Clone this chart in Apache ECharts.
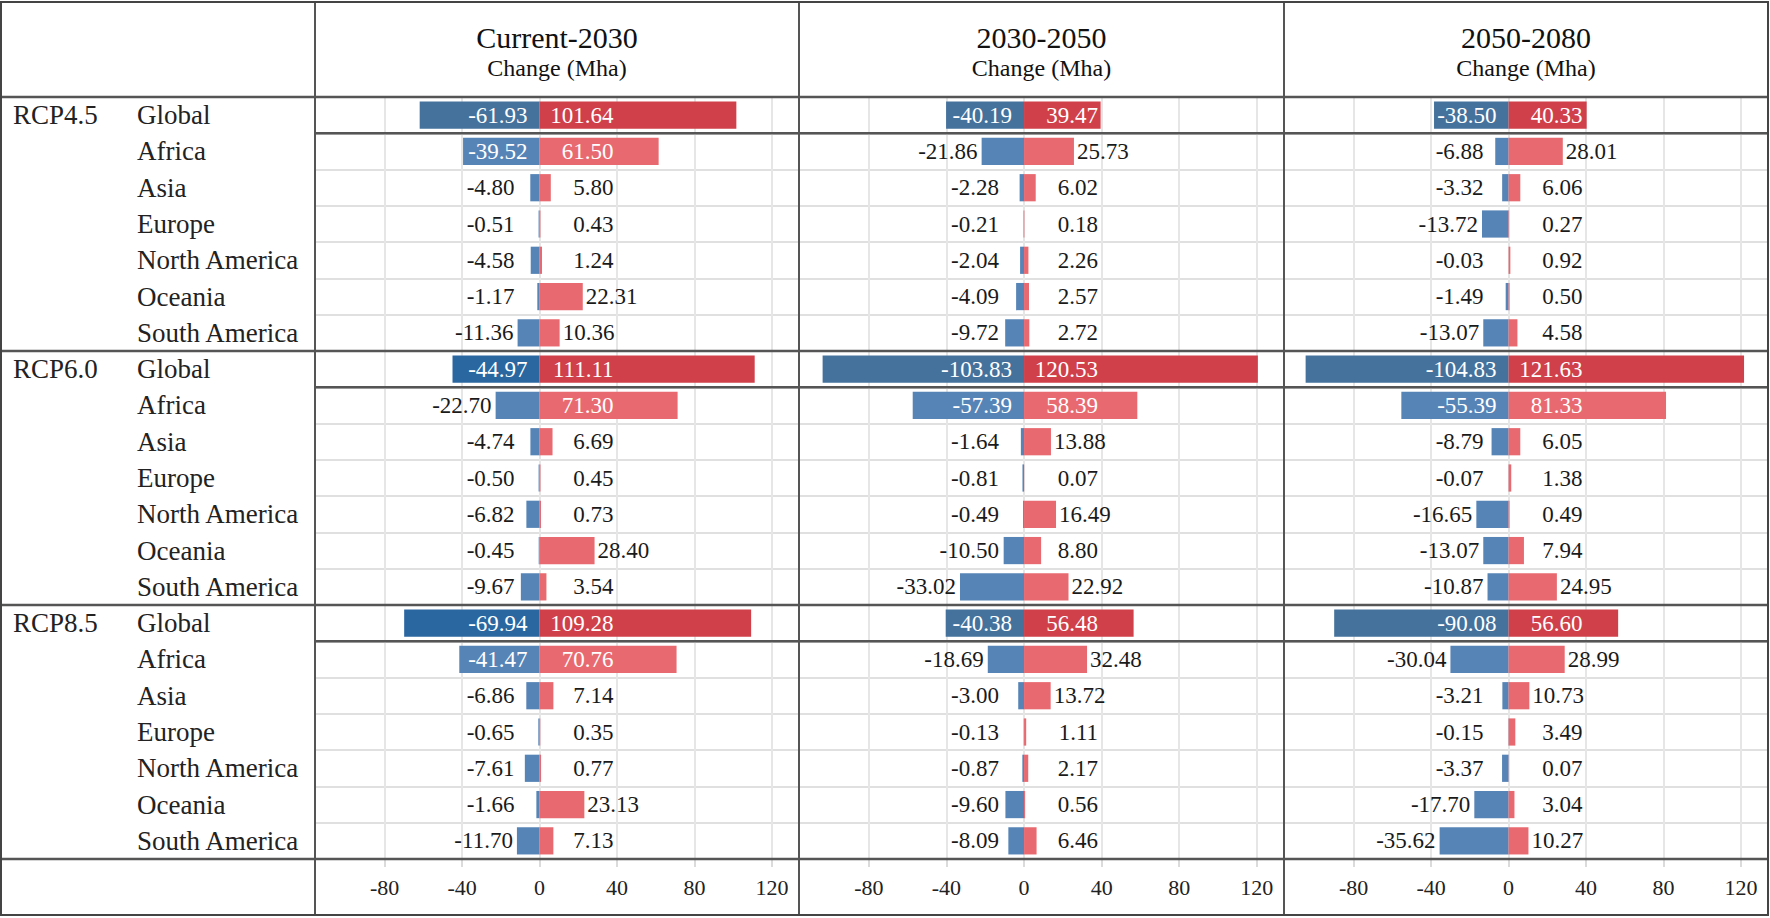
<!DOCTYPE html>
<html><head><meta charset="utf-8">
<script src="https://cdn.jsdelivr.net/npm/echarts@6/dist/echarts.min.js"></script>
<style>html,body{margin:0;padding:0;background:#fff}#c{width:1770px;height:918px}</style>
</head><body><div id="c"></div>
<script>
// ---------------- data ----------------
const periods = ['Current-2030', '2030-2050', '2050-2080'];
const subtitle = 'Change (Mha)';
const scenarios = ['RCP4.5', 'RCP6.0', 'RCP8.5'];
const regions = ['Global', 'Africa', 'Asia', 'Europe', 'North America', 'Oceania', 'South America'];
const tickValues = [-80, -40, 0, 40, 80, 120];

// rows: RCP4.5 (7 regions), RCP6.0 (7), RCP8.5 (7)
const lossCurrent2030 = [-61.93, -39.52, -4.80, -0.51, -4.58, -1.17, -11.36,
                         -44.97, -22.70, -4.74, -0.50, -6.82, -0.45, -9.67,
                         -69.94, -41.47, -6.86, -0.65, -7.61, -1.66, -11.70];
const gainCurrent2030 = [101.64, 61.50, 5.80, 0.43, 1.24, 22.31, 10.36,
                         111.11, 71.30, 6.69, 0.45, 0.73, 28.40, 3.54,
                         109.28, 70.76, 7.14, 0.35, 0.77, 23.13, 7.13];
const loss2030to2050 = [-40.19, -21.86, -2.28, -0.21, -2.04, -4.09, -9.72,
                        -103.83, -57.39, -1.64, -0.81, -0.49, -10.50, -33.02,
                        -40.38, -18.69, -3.00, -0.13, -0.87, -9.60, -8.09];
const gain2030to2050 = [39.47, 25.73, 6.02, 0.18, 2.26, 2.57, 2.72,
                        120.53, 58.39, 13.88, 0.07, 16.49, 8.80, 22.92,
                        56.48, 32.48, 13.72, 1.11, 2.17, 0.56, 6.46];
const loss2050to2080 = [-38.50, -6.88, -3.32, -13.72, -0.03, -1.49, -13.07,
                        -104.83, -55.39, -8.79, -0.07, -16.65, -13.07, -10.87,
                        -90.08, -30.04, -3.21, -0.15, -3.37, -17.70, -35.62];
const gain2050to2080 = [40.33, 28.01, 6.06, 0.27, 0.92, 0.50, 4.58,
                        121.63, 81.33, 6.05, 1.38, 0.49, 7.94, 24.95,
                        56.60, 28.99, 10.73, 3.49, 0.07, 3.04, 10.27];

const losses = [lossCurrent2030, loss2030to2050, loss2050to2080];
const gains = [gainCurrent2030, gain2030to2050, gain2050to2080];

// ---------------- styles / layout ----------------
const FONT = '"Liberation Serif", "Times New Roman", serif';
const VAL_SIZE = 23, ROW_SIZE = 27, TITLE_SIZE = 30, SUB_SIZE = 24, AXIS_SIZE = 22;
const COL_BLUE = '#5784b6', COL_RED = '#e86a70';
const COL_GBLUE = '#44729c', COL_GBLUE_STRONG = '#2a67a1', COL_GRED = '#d0404a';
const strongGlobalLoss = {0: [1, 2]}; // period index -> scenario indices drawn in stronger blue
const DARK = '#555555', LIGHT = '#e0e0e0', TEXT = '#1a1a1a';

const colEdges = [315, 799, 1284, 1768];
const rowsTop = 97, rowsBottom = 859;
const frame = {l: 1, r: 1768, t: 2, b: 915};
const xMin = -116, xMax = 134;
const nRows = scenarios.length * regions.length;
const rowH = (rowsBottom - rowsTop) / nRows;
const POS_ANCHOR = 74;   // px right of zero where positive labels end
const NEG_ANCHOR = 25;   // px left of zero where small negative labels end

const rowKeys = [];
scenarios.forEach(s => regions.forEach(r => rowKeys.push(s + '|' + r)));

const mctx = document.createElement('canvas').getContext('2d');
mctx.font = VAL_SIZE + 'px "Liberation Serif"';
const textW = s => mctx.measureText(s).width;
const fmt = v => v.toFixed(2);

const grids = [], xAxes = [], yAxes = [], series = [], graphics = [];

periods.forEach((per, p) => {
  const gl = colEdges[p], gw = colEdges[p + 1] - colEdges[p];
  const ppu = gw / (xMax - xMin);
  grids.push({left: gl, top: rowsTop, width: gw, height: rowsBottom - rowsTop, containLabel: false});
  xAxes.push({
    type: 'value', gridIndex: p, min: xMin, max: xMax, position: 'bottom',
    axisLine: {show: false},
    axisTick: {show: true, customValues: tickValues, length: 8, lineStyle: {color: '#cfcfcf', width: 1.5}},
    axisLabel: {customValues: tickValues, fontFamily: FONT, fontSize: AXIS_SIZE, color: '#222', margin: 17},
    splitLine: {show: true, lineStyle: {color: '#e6e6e6', width: 2}}
  });
  const yIdx = yAxes.length;
  yAxes.push({
    type: 'category', gridIndex: p, inverse: true, data: rowKeys, position: 'left',
    axisLine: {show: false}, axisTick: {show: false},
    axisLabel: p === 0 ? {
      show: true, align: 'left', margin: colEdges[0] - 137, interval: 0,
      fontFamily: FONT, fontSize: ROW_SIZE, color: '#222',
      formatter: v => v.split('|')[1]
    } : {show: false},
    splitLine: {show: true, interval: 0, lineStyle: {color: LIGHT, width: 2}}
  });
  if (p === 0) {
    yAxes.push({
      type: 'category', gridIndex: 0, inverse: true, data: rowKeys, position: 'left', offset: 0,
      axisLine: {show: false}, axisTick: {show: false}, splitLine: {show: false},
      axisLabel: {
        show: true, align: 'left', margin: colEdges[0] - 13, interval: 0,
        fontFamily: FONT, fontSize: ROW_SIZE, color: '#222',
        formatter: v => { const [s, r] = v.split('|'); return r === regions[0] ? s : ''; }
      }
    });
  }

  const lossData = losses[p].map((v, i) => {
    const s = Math.floor(i / regions.length), isG = i % regions.length === 0;
    const color = isG ? ((strongGlobalLoss[p] || []).includes(s) ? COL_GBLUE_STRONG : COL_GBLUE) : COL_BLUE;
    const w = Math.abs(v) * ppu, tw = textW(fmt(v));
    const label = (w >= tw + 14)
      ? {position: 'insideRight', distance: 12, color: '#fff'}
      : {position: 'left', distance: 4, offset: [Math.min(0, w - (NEG_ANCHOR - 4)), 0], color: TEXT};
    return {value: v, itemStyle: {color}, label};
  });
  const gainData = gains[p].map((v, i) => {
    const isG = i % regions.length === 0;
    const color = isG ? COL_GRED : COL_RED;
    const w = v * ppu, tw = textW(fmt(v));
    const label = (w >= POS_ANCHOR + 2)
      ? {position: 'insideLeft', distance: 0, offset: [POS_ANCHOR - tw, 0], color: '#fff'}
      : {position: 'right', distance: 3, offset: [Math.max(0, POS_ANCHOR - tw - w - 3), 0], color: TEXT};
    return {value: v, itemStyle: {color}, label};
  });
  const baseLabel = {show: true, fontFamily: FONT, fontSize: VAL_SIZE, formatter: d => fmt(d.value)};
  series.push({type: 'bar', name: 'loss', xAxisIndex: p, yAxisIndex: yIdx, barWidth: '75%', barGap: '-100%',
               data: lossData, label: baseLabel, clip: false});
  series.push({type: 'bar', name: 'gain', xAxisIndex: p, yAxisIndex: yIdx, barWidth: '75%', barGap: '-100%',
               data: gainData, label: baseLabel, clip: false});

  const cx = (colEdges[p] + colEdges[p + 1]) / 2;
  graphics.push({type: 'text', x: cx, y: 37, z: 50,
    style: {text: per, fontFamily: FONT, fontSize: TITLE_SIZE, fill: '#111', align: 'center', verticalAlign: 'middle'}});
  graphics.push({type: 'text', x: cx, y: 68, z: 50,
    style: {text: subtitle, fontFamily: FONT, fontSize: SUB_SIZE, fill: '#111', align: 'center', verticalAlign: 'middle'}});
});

// table lines
const line = (x1, y1, x2, y2, stroke, lw) => ({type: 'line', z: 60, silent: true,
  shape: {x1, y1, x2, y2}, style: {stroke, lineWidth: lw}});
graphics.push({type: 'rect', z: 61, silent: true, shape: {x: frame.l, y: frame.t, width: frame.r - frame.l, height: frame.b - frame.t},
  style: {fill: 'none', stroke: '#444', lineWidth: 2}});
for (let s = 0; s <= scenarios.length; s++) {
  const y = rowsTop + s * regions.length * rowH;
  graphics.push(line(frame.l, y, frame.r, y, DARK, 2.5));
  if (s < scenarios.length) {
    const yg = y + rowH;
    graphics.push(line(colEdges[0], yg, frame.r, yg, DARK, 2.5));
  }
}
for (let c = 0; c < 3; c++) graphics.push(line(colEdges[c], frame.t, colEdges[c], frame.b, DARK, 2));

const chart = echarts.init(document.getElementById('c'), null, {renderer: 'svg'});
chart.setOption({
  animation: false,
  backgroundColor: '#fff',
  grid: grids, xAxis: xAxes, yAxis: yAxes, series, graphic: graphics
});
</script></body></html>
